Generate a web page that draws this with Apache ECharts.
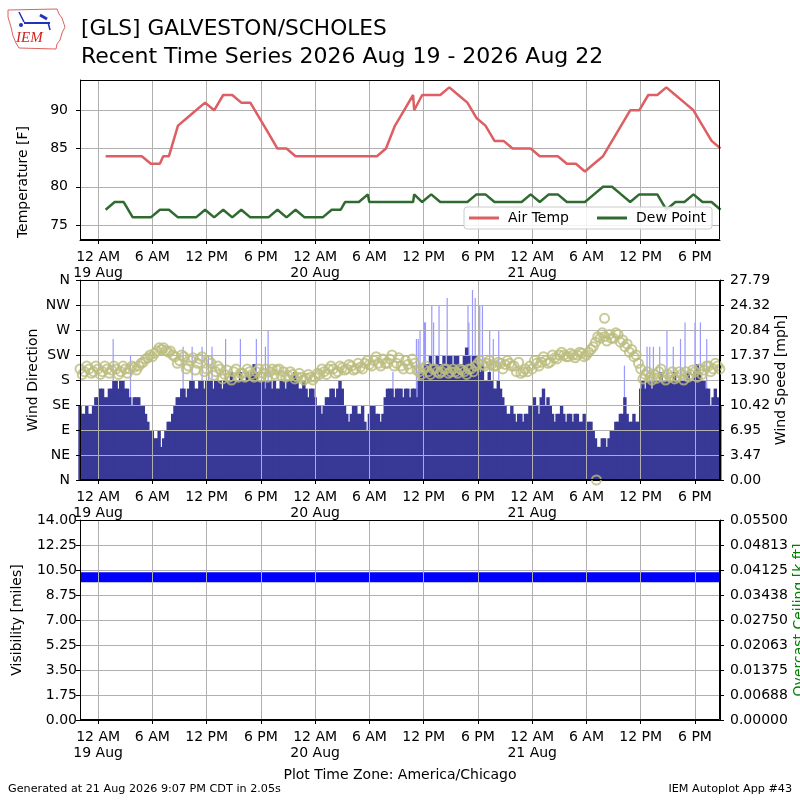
<!DOCTYPE html>
<html><head><meta charset="utf-8">
<script src="https://cdn.jsdelivr.net/npm/echarts@6/dist/echarts.min.js"></script>
<style>html,body{margin:0;padding:0;background:#fff}#c{width:800px;height:800px}</style>
</head><body><div id="c"></div>
<script>
// ---------------- DATA ----------------
const xRangeStart = '2026-08-18 22:00';
const xRangeEnd = '2026-08-21 20:46';
const tickHours = [0,6,12,18,24,30,36,42,48,54,60,66];
const tickLabels = ['12 AM\n19 Aug','6 AM','12 PM','6 PM','12 AM\n20 Aug','6 AM','12 PM','6 PM','12 AM\n21 Aug','6 AM','12 PM','6 PM'];

// hourly observations (every hour starting at this time)
const hourlyStart = '2026-08-19 00:50';
const airTemp = [84,84,84,84,84,83,83,84,88,89, 90,91,90,92,92,91,91,89,87,85, 85,84,84,84,84,84,84,84,84,84,
                 84,85,88,90,92,92,92,92,93,92, 91,89,88,86,86,85,85,85,84,84, 84,83,83,82,83,84,86,88,90,90,
                 92,92,93,92,91,90,88,86,85];
const dewPoint = [77,78,78,76,76,76,77,77,76,76, 76,77,76,77,76,77,76,76,76,77, 76,77,76,76,76,77,77,78,78,79,
                  78,78,78,78,78,78,79,78,78,78, 78,79,79,78,78,78,78,79,78,79, 79,78,78,78,79,80,80,79,78,79,
                  79,79,77,78,78,79,78,78,77];
// special observations
const specialTimes = ['2026-08-19 07:12','2026-08-20 03:18','2026-08-20 05:59','2026-08-20 10:57'];
const specialAirTemp = [84,84,84,90];
const specialDewPoint = [77,78,78,79];

// wind: set A every 30 min from 22:00, set B every 30 min from 22:15
const windStartA = '2026-08-18 22:00';
const windStartB = '2026-08-18 22:15';
const windStepMinutes = 30;
const windSpeedA = [10.4,9.2,9.2,10.4,11.5,12.7,11.5,12.7,13.8,13.8,
  12.7,11.5,11.5,11.5,10.4,8.1,6.9,5.8,4.6,6.9,
  8.1,10.4,11.5,12.7,12.7,13.8,12.7,13.8,13.8,13.8,
  13.8,13.8,13.8,13.8,13.8,13.8,13.8,15.0,15.0,15.0,
  13.8,12.7,13.8,13.8,12.7,13.8,13.8,13.8,13.8,12.7,
  12.7,12.7,11.5,10.4,10.4,11.5,12.7,12.7,12.7,9.2,
  9.2,10.4,9.2,8.1,9.2,10.4,9.2,9.2,12.7,12.7,
  12.7,12.7,12.7,11.5,12.7,13.8,15.0,16.1,16.1,17.3,
  16.1,16.1,17.3,17.3,16.1,17.3,17.3,17.3,16.1,16.1,
  13.8,13.8,12.7,12.7,10.4,9.2,9.2,9.2,8.1,9.2,
  10.4,10.4,11.5,10.4,10.4,8.1,9.2,9.2,9.2,8.1,
  9.2,8.1,6.9,8.1,5.8,4.6,5.8,5.8,6.9,8.1,
  9.2,9.2,8.1,8.1,12.7,12.7,13.8,13.8,13.8,13.8,
  13.8,13.8,13.8,13.8,13.8,13.8,15.0,15.0,13.8,12.7,
  11.5,11.5];
const windSpeedB = [9.2,10.4,9.2,11.5,12.7,11.5,12.7,13.8,12.7,13.8,
  12.7,10.4,11.5,10.4,9.2,6.9,5.8,6.9,5.8,8.1,
  9.2,11.5,12.7,11.5,13.8,12.7,13.8,12.7,13.8,12.7,
  13.8,12.7,13.8,15.0,13.8,15.0,13.8,13.8,16.1,13.8,
  13.8,13.8,12.7,12.7,13.8,12.7,13.8,15.0,12.7,13.8,
  11.5,12.7,10.4,9.2,11.5,12.7,11.5,13.8,10.4,8.1,
  10.4,9.2,10.4,6.9,10.4,9.2,8.1,11.5,12.7,11.5,
  12.7,11.5,12.7,12.7,11.5,15.0,16.1,17.3,16.1,16.1,
  17.3,17.3,16.1,17.3,16.1,18.4,16.1,17.3,15.0,13.8,
  15.0,12.7,13.8,11.5,9.2,10.4,8.1,9.2,9.2,10.4,
  11.5,9.2,12.7,11.5,9.2,9.2,10.4,8.1,9.2,9.2,
  8.1,9.2,8.1,6.9,4.6,5.8,4.6,6.9,8.1,9.2,
  11.5,8.1,9.2,8.1,13.8,13.8,12.7,13.8,15.0,13.8,
  13.8,15.0,13.8,13.8,15.0,13.8,16.1,13.8,12.7,10.4,
  12.7,10.4];
const windDirectionA = [200,195,200,195,200,195,200,198,200,195,
  200,200,203,205,212,220,222,232,235,233,
  232,222,215,222,205,220,210,222,200,210,
  195,200,190,185,195,185,192,200,190,195,
  185,200,195,190,200,195,188,190,185,185,
  183,185,185,190,195,200,200,195,202,200,
  205,200,203,210,208,215,210,218,210,225,
  210,205,215,200,210,195,200,195,200,195,
  195,200,195,195,200,195,200,195,210,208,
  210,208,205,210,208,210,205,212,195,195,
  200,210,212,215,212,220,225,225,222,225,
  225,228,225,235,248,255,258,262,255,262,
  252,245,235,225,200,190,185,190,195,185,
  190,195,185,190,195,190,195,200,198,205,
  200,205];
const windDirectionB = [190,205,192,205,190,205,192,205,190,205,
  192,205,198,210,218,225,228,238,238,230,
  225,210,225,200,215,198,218,195,215,188,
  205,182,198,180,200,192,185,195,185,200,
  192,185,200,198,188,185,195,182,192,180,
  190,180,192,200,190,205,192,205,198,208,
  198,210,200,215,205,222,205,210,218,205,
  220,200,208,218,198,190,205,190,200,192,
  200,192,200,192,198,190,200,205,215,205,
  215,205,212,200,215,205,195,192,200,205,
  215,205,222,210,225,218,230,222,228,220,
  230,222,230,240,258,265,250,255,265,248,
  240,230,222,210,182,195,180,183,200,180,
  185,182,195,180,185,198,185,190,205,195,
  210,200];
const extraDirTimes = ['2026-08-21 07:06','2026-08-21 08:00'];
const extraDirValues = [0, 291];

const gustTimes = ['2026-08-19 01:40','2026-08-19 03:35','2026-08-19 09:24','2026-08-19 10:24','2026-08-19 11:30',
  '2026-08-19 12:12','2026-08-19 12:36','2026-08-19 14:06','2026-08-19 15:44','2026-08-19 17:30','2026-08-19 18:30',
  '2026-08-19 18:48','2026-08-20 08:36','2026-08-20 11:12','2026-08-20 11:24','2026-08-20 11:36','2026-08-20 12:06',
  '2026-08-20 12:12','2026-08-20 12:54','2026-08-20 13:06','2026-08-20 13:42','2026-08-20 14:36','2026-08-20 16:54',
  '2026-08-20 17:00','2026-08-20 17:24','2026-08-20 17:42','2026-08-20 18:12','2026-08-20 18:30','2026-08-20 19:18',
  '2026-08-20 19:42','2026-08-20 20:18','2026-08-21 10:12','2026-08-21 12:42','2026-08-21 13:00','2026-08-21 13:24',
  '2026-08-21 14:06','2026-08-21 14:54','2026-08-21 15:36','2026-08-21 16:24','2026-08-21 16:54','2026-08-21 18:00',
  '2026-08-21 18:36','2026-08-21 19:18'];
const gustSpeed = [19.6,17.3,18.5,18.5,18.5,17.3,18.5,19.6,19.6,19.6,18.5,
  20.8,15.0,19.6,19.6,20.8,21.9,21.9,24.3,21.9,24.3,25.3,24.3,
  21.9,26.4,25.3,24.3,24.3,20.8,19.6,20.8,15.9,18.5,18.5,18.5,
  18.5,20.8,18.5,19.6,21.9,21.9,21.9,19.6];

const visTimes = ['2026-08-18 22:00','2026-08-19 04:00','2026-08-19 10:00','2026-08-19 16:00','2026-08-19 22:00',
  '2026-08-20 04:00','2026-08-20 10:00','2026-08-20 16:00','2026-08-20 22:00','2026-08-21 04:00','2026-08-21 10:00',
  '2026-08-21 16:00','2026-08-21 20:46'];
const visibility = [10,10,10,10,10,10,10,10,10,10,10,10,10];

const tempTicks = [75,80,85,90];
const dirTicks = [0,45,90,135,180,225,270,315,360];
const dirTickLabels = ['N','NE','E','SE','S','SW','W','NW','N'];
const speedTickLabels = ['0.00','3.47','6.95','10.42','13.90','17.37','20.84','24.32','27.79'];
const visTickLabels = ['0.00','1.75','3.50','5.25','7.00','8.75','10.50','12.25','14.00'];
const ceilTickLabels = ['0.00000','0.00688','0.01375','0.02063','0.02750','0.03438','0.04125','0.04813','0.05500'];

// ---------------- HELPERS ----------------
const FONT = 'DejaVu Sans';
const FS = 14;
const ORIGIN = Date.UTC(2026,7,19,0,0);
function toHours(s){const [d,t]=s.split(' ');const [Y,M,D]=d.split('-').map(Number);const [h,m]=t.split(':').map(Number);return (Date.UTC(Y,M-1,D,h,m)-ORIGIN)/3600000;}
const X_MIN = toHours(xRangeStart), X_MAX = toHours(xRangeEnd);
function nearestIdx(arr,v){let b=0,bd=Infinity;arr.forEach((a,i)=>{const d=Math.abs(a-v);if(d<bd){bd=d;b=i;}});return b;}

const h0 = toHours(hourlyStart);
let obs = airTemp.map((v,i)=>({t:h0+i,T:v,D:dewPoint[i]}));
specialTimes.forEach((s,i)=>obs.push({t:toHours(s),T:specialAirTemp[i],D:specialDewPoint[i]}));
obs.sort((a,b)=>a.t-b.t);
const tempData = obs.map(o=>[o.t,o.T]);
const dewData = obs.map(o=>[o.t,o.D]);

const wA = toHours(windStartA), wB = toHours(windStartB);
const step = windStepMinutes/60;
const speedData = windSpeedA.map((v,i)=>[wA+i*step,v]).concat(windSpeedB.map((v,i)=>[wB+i*step,v])).sort((a,b)=>a[0]-b[0]);
const dirData = windDirectionA.map((v,i)=>[wA+i*step,v]).concat(windDirectionB.map((v,i)=>[wB+i*step,v]));
extraDirTimes.forEach((s,i)=>dirData.push([toHours(s),extraDirValues[i]]));
const gustData = gustTimes.map((s,i)=>[toHours(s),gustSpeed[i]]);
const visData = visTimes.map((s,i)=>[toHours(s),visibility[i]]);

const speedVals = speedTickLabels.map(Number);
const visVals = visTickLabels.map(Number);
const ceilVals = ceilTickLabels.map(Number);

function xAx(gridIndex, z){
  return {type:'value', gridIndex, min:X_MIN, max:X_MAX, z:z,
    axisLine:{show:true,onZero:false,lineStyle:{color:'#000',width:1}},
    axisTick:{show:true,customValues:tickHours,length:4,lineStyle:{color:'#000'}},
    axisLabel:{customValues:tickHours,formatter:v=>tickLabels[nearestIdx(tickHours,v)],color:'#000',fontSize:FS,fontFamily:FONT,lineHeight:16,margin:9},
    splitLine:{show:true,lineStyle:{color:'#b0b0b0',width:1}}};
}
function yAx(gridIndex,pos,min,max,vals,labels,margin,split,z){
  return {type:'value', gridIndex, position:pos, min, max, z:z,
    axisLine:{show:true,onZero:false,lineStyle:{color:'#000',width:1}},
    axisTick:{show:true,customValues:vals,length:4,lineStyle:{color:'#000'}},
    axisLabel:{customValues:vals,formatter:v=>labels[nearestIdx(vals,v)],color:'#000',fontSize:FS,fontFamily:FONT,margin},
    splitLine:{show:split,lineStyle:{color:'#b0b0b0',width:1}}};
}
function frame(x,y,w,h){return {type:'rect',z:100,silent:true,shape:{x:x+0.5,y:y+0.5,width:w-1,height:h-1},style:{fill:null,stroke:'#000',lineWidth:1}};}
function txt(x,y,text,size,align){return {type:'text',x,y,silent:true,z:100,style:{text,fontSize:size,fontFamily:FONT,fill:'#000',align:align,verticalAlign:'middle'}};}
function vtxt(x,y,text,color){return {type:'text',x,y,rotation:Math.PI/2,silent:true,z:100,style:{text,fontSize:FS,fontFamily:FONT,fill:color||'#000',align:'center',verticalAlign:'middle'}};}

const chart = echarts.init(document.getElementById('c'),null,{renderer:'canvas'});
chart.setOption({
  animation:false,
  backgroundColor:'#fff',
  grid:[
    {left:80,top:80,width:640,height:160},
    {left:80,top:280,width:640,height:200},
    {left:80,top:520,width:640,height:200}
  ],
  xAxis:[
    xAx(0,0),
    xAx(1,3),
    {type:'value',gridIndex:1,min:X_MIN,max:X_MAX,show:false},
    xAx(2,3)
  ],
  yAxis:[
    yAx(0,'left',73.04,93.96,tempTicks,tempTicks.map(String),12,true,0),
    yAx(1,'left',0,360,dirTicks,dirTickLabels,10,true,3),
    yAx(1,'right',0,27.79,speedVals,speedTickLabels,10,false,3),
    yAx(2,'left',0,14,visVals,visTickLabels,3,true,3),
    yAx(2,'right',0,0.055,ceilVals,ceilTickLabels,10,false,3)
  ],
  legend:{data:['Air Temp','Dew Point'],left:464,top:207,orient:'horizontal',itemWidth:30,itemHeight:3,itemGap:28,icon:'rect',
    textStyle:{fontSize:FS,fontFamily:FONT,color:'#000',padding:[0,0,0,4]},borderColor:'#cccccc',borderWidth:1,borderRadius:3,
    padding:[4,6,4,5],backgroundColor:'rgba(255,255,255,0.85)'},
  series:[
    {name:'Air Temp',type:'line',xAxisIndex:0,yAxisIndex:0,data:tempData,showSymbol:false,color:'#dd5e63',lineStyle:{width:2.5,color:'#dd5e63'},z:2},
    {name:'Dew Point',type:'line',xAxisIndex:0,yAxisIndex:0,data:dewData,showSymbol:false,color:'#2f6b30',lineStyle:{width:2.5,color:'#2f6b30'},z:2},
    {name:'Gust',type:'bar',xAxisIndex:2,yAxisIndex:2,data:gustData,barWidth:1.2,itemStyle:{color:'#9999ff'},z:1},
    {name:'Wind Speed',type:'bar',xAxisIndex:1,yAxisIndex:2,data:speedData,barWidth:3.4,itemStyle:{color:'#383896'},z:2},
    {name:'Wind Direction',type:'scatter',xAxisIndex:1,yAxisIndex:1,data:dirData,symbol:'circle',symbolSize:9,
      itemStyle:{color:'rgba(0,0,0,0)',borderColor:'#bcbd7e',borderWidth:2},z:5},
    {name:'Visibility',type:'line',xAxisIndex:3,yAxisIndex:3,data:visData,showSymbol:false,lineStyle:{width:10,color:'#0000ff',cap:'butt'},z:2}
  ],
  graphic:[
    frame(80,80,640,160), frame(80,280,640,200), frame(80,520,640,200),
    txt(81,29.5,'[GLS] GALVESTON/SCHOLES',21.7,'left'),
    txt(81,57,'Recent Time Series 2026 Aug 19 - 2026 Aug 22',22,'left'),
    vtxt(23,182,'Temperature [F]'),
    vtxt(33,380,'Wind Direction'),
    vtxt(781,380,'Wind Speed [mph]'),
    vtxt(17.5,620,'Visibility [miles]'),
    vtxt(799,620,'Overcast Ceiling [k ft]','#008000'),
    txt(400,775,'Plot Time Zone: America/Chicago',FS,'center'),
    txt(8,789,'Generated at 21 Aug 2026 9:07 PM CDT in 2.05s',11.2,'left'),
    txt(792,789,'IEM Autoplot App #43',11.2,'right'),
    // IEM logo
    {type:'polyline',silent:true,shape:{points:[[8,10],[57,9],[59,14],[62,18],[65,27],[62,33],[60,40],[57,44],[56,49],[19,48],[16,43],[13,36],[11,27],[8,17],[8,10]]},style:{stroke:'#e06060',lineWidth:1,fill:null}},
    {type:'line',silent:true,shape:{x1:24,y1:23,x2:50,y2:23},style:{stroke:'#2233bb',lineWidth:2}},
    {type:'line',silent:true,shape:{x1:19,y1:12,x2:24,y2:22},style:{stroke:'#2233bb',lineWidth:1.5}},
    {type:'line',silent:true,shape:{x1:40,y1:15,x2:47,y2:19},style:{stroke:'#2233bb',lineWidth:3}},
    {type:'line',silent:true,shape:{x1:48,y1:22,x2:50,y2:30},style:{stroke:'#2233bb',lineWidth:1.5}},
    {type:'circle',silent:true,shape:{cx:21,cy:25,r:2},style:{fill:'#2233bb'}},
    {type:'text',silent:true,x:16,y:38,style:{text:'IEM',font:'italic 15px "Liberation Serif"',fill:'#d42020',verticalAlign:'middle'}}
  ]
});
</script></body></html>
